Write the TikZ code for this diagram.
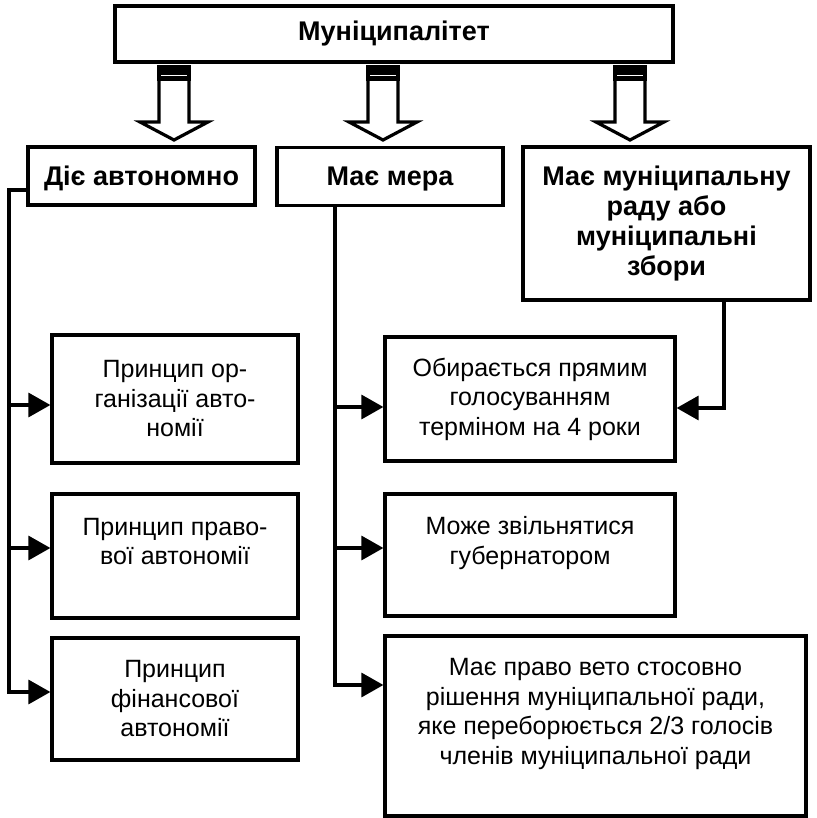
\documentclass[tikz,border=0pt]{standalone}
\usepackage{fontspec}
\setmainfont{Liberation Sans}
\usetikzlibrary{arrows.meta}
\tikzset{
  box/.style={draw,line width=1.6pt,align=center,inner sep=0pt,font=\fontsize{12.5}{14.75}\selectfont},
  headbox/.style={box,font=\fontsize{13.5}{15}\selectfont\bfseries},
  conn/.style={line width=1.6pt},
  arr/.style={conn,-{Triangle[length=11pt,width=12pt]}},
  bigarrow/.style={line width=1.6pt,fill=white}
}
\begin{document}
\begin{tikzpicture}[x=0.5pt,y=-0.5pt]
\useasboundingbox (0,0) rectangle (816,818);
% top level
\node[headbox,minimum width=279pt,minimum height=28pt] (mun) at (394,34) {Муніципалітет};
% second row
\node[headbox,minimum width=113.5pt,minimum height=29pt,text depth=0pt] (auto) at (141.5,176) {Діє автономно};
\node[headbox,minimum width=113pt,minimum height=29pt,text depth=0pt] (mayor) at (390,176.5) {Має мера};
\node[headbox,minimum width=143.5pt,minimum height=76.5pt] (council) at (666.5,223.5) {Має муніципальну\\раду або\\муніципальні\\збори};
% principles
\node[box,minimum width=123pt,minimum height=64pt] (porg) at (175,399) {Принцип ор-\\ганізації авто-\\номії};
\node[box,minimum width=123pt,minimum height=62pt] (ppravo) at (175,556) {Принцип право-\\вої автономії\\\mbox{}};
\node[box,minimum width=123pt,minimum height=61pt] (pfin) at (175,699) {Принцип\\фінансової\\автономії};
% mayor
\node[box,minimum width=145pt,minimum height=62pt] (elect) at (530,399) {Обирається прямим\\голосуванням\\терміном на 4 роки};
\node[box,minimum width=145pt,minimum height=61pt] (dismiss) at (530,555) {Може звільнятися\\губернатором\\\mbox{}};
\node[box,minimum width=210.5pt,minimum height=90pt] (veto) at (595.5,726) {Має право вето стосовно\\рішення муніципальної ради,\\яке переборюється 2/3 голосів\\членів муніципальної ради\\\mbox{}};
% big arrows
\foreach \ax in {174,383,630}{
  \draw[bigarrow] (\ax-15,79) -- (\ax-15,122) -- (\ax-34,122) -- (\ax,140) -- (\ax+34,122) -- (\ax+15,122) -- (\ax+15,79);
  \draw[line width=1.6pt,fill=black] (\ax-15,67) rectangle (\ax+15,79);
  \draw[white,line width=0.4pt] (\ax-13,75.5) -- (\ax+13,75.5);
}
% connectors
\coordinate (lbus) at (9,190);
\coordinate (mbus) at (335,685);
\coordinate (porgin) at ([yshift=-3pt]porg.west);
\coordinate (ppravoin) at ([yshift=4pt]ppravo.west);
\coordinate (pfinin) at ([yshift=3.5pt]pfin.west);
\coordinate (electin) at ([yshift=-4pt]elect.west);
\coordinate (dismissin) at ([yshift=3.5pt]dismiss.west);
\coordinate (vetoin) at ([yshift=20.5pt]veto.west);
\coordinate (electrin) at ([yshift=-4.5pt]elect.east);
\draw[arr] (auto.west |- lbus) -- (lbus) |- (pfinin);
\draw[arr] (lbus |- porgin) -- (porgin);
\draw[arr] (lbus |- ppravoin) -- (ppravoin);
\draw[arr] (mayor.south -| mbus) |- (vetoin);
\draw[arr] (mbus |- electin) -- (electin);
\draw[arr] (mbus |- dismissin) -- (dismissin);
\draw[arr] ([xshift=28.75pt]council.south) |- (electrin);
\end{tikzpicture}
\end{document}
